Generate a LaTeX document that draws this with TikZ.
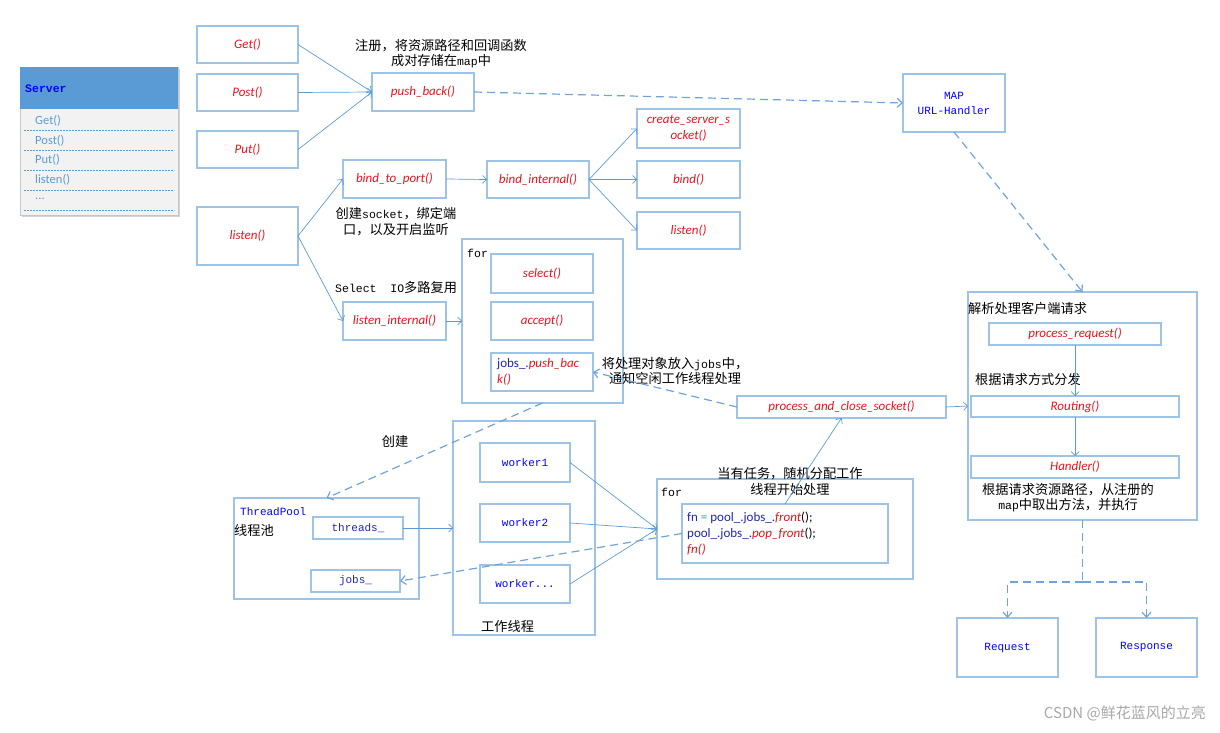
\documentclass[tikz,border=0pt]{standalone}
\usepackage{fontspec}
\setmainfont{Carlito}
\newfontfamily\cjk{Noto Sans CJK SC}
\newfontfamily\monof{Liberation Mono}
\usetikzlibrary{arrows.meta}
\definecolor{bx}{HTML}{9DC3E6}
\definecolor{ln}{HTML}{5B9BD5}
\definecolor{dl}{HTML}{6FA3DA}
\definecolor{fred}{HTML}{E8141E}
\definecolor{navy}{HTML}{2028A8}
\definecolor{tealc}{HTML}{2AA0A0}
\definecolor{sfill}{HTML}{F2F2F2}
\definecolor{hdr}{HTML}{5B9BD5}
\definecolor{wm}{HTML}{A8A8A8}
\newcommand{\mn}[1]{{\monof\fontsize{11.5}{15}\selectfont #1}}
\begin{document}
\begin{tikzpicture}[x=1pt,y=-1pt,
  box/.style={draw=bx, line width=1.4pt, inner sep=1pt, outer sep=0pt, align=center, fill=white},
  cont/.style={draw=bx, line width=1.4pt, inner sep=0pt, outer sep=0pt},
  sz/.style 2 args={minimum width=#1pt, minimum height=#2pt},
  redf/.style={font=\fontsize{13}{15.5}\selectfont\itshape, text=fred},
  bluet/.style={font=\monof\fontsize{11}{15}\selectfont, text=blue},
  cn/.style={font=\cjk\fontsize{13.2}{15.5}\selectfont, align=center, inner sep=0pt},
  item/.style={font=\fontsize{12.5}{14}\selectfont, text=ln, inner sep=0pt, anchor=west},
  conn/.style={draw=ln, line width=0.7pt, -{Straight Barb[length=4pt,width=8pt]}},
  dconn/.style={draw=dl, line width=1.2pt, dash pattern=on 8pt off 5pt, -{Straight Barb[length=5pt,width=9pt]}},
  dline/.style={draw=dl, line width=1.2pt, dash pattern=on 8pt off 5pt},
  sep/.style={draw=ln, line width=0.6pt, dash pattern=on 2pt off 1pt}
]
\useasboundingbox (0,0) rectangle (1220,733);

% ---------- Server class box ----------
\fill[gray!35] (22,69) rectangle (180,217);
\draw[draw=gray!45, fill=sfill, line width=0.8pt] (20,67) rectangle (178,215);
\fill[hdr] (20,67) rectangle (178,109);
\node[anchor=west, font=\monof\bfseries\fontsize{11.5}{12}\selectfont, text=blue, inner sep=0pt] (srvt) at (25,89) {Server};
\node[item] (i1) at (35,121) {Get()};
\node[item] (i2) at (35,141) {Post()};
\node[item] (i3) at (35,160) {Put()};
\node[item] (i4) at (35,180) {listen()};
\node[item] (i5) at (35,199) {...};
\foreach \yy in {130,150,170,190,210} \draw[sep] (24,\yy) -- (174,\yy);

% ---------- containers ----------
\node[cont, sz={161}{164}] (forA) at (542.5,321) {};
\node[anchor=west, font=\monof\fontsize{11.5}{12}\selectfont, inner sep=0pt] (forAt) at (467,253) {for};
\node[cont, sz={229}{228}] (big) at (1082.5,406) {};
\node[cont, sz={256}{100}] (forB) at (785,529) {};
\node[anchor=west, font=\monof\fontsize{11.5}{12}\selectfont, inner sep=0pt] (forBt) at (661,492) {for};
\node[cont, sz={185}{101}] (tp) at (326.5,548.5) {};
\node[cont, sz={142}{214}] (wk) at (524,528) {};

% ---------- top-left boxes ----------
\node[box, sz={101}{37}, redf] (get) at (247.5,44.5) {Get()};
\node[box, sz={101}{37}, redf] (post) at (247.5,92.5) {Post()};
\node[box, sz={101}{37}, redf] (put) at (247.5,149.5) {Put()};
\node[box, sz={101}{58}, redf] (lis) at (247.5,236) {listen()};
\node[box, sz={102}{38}, redf] (pb) at (423,92) {push\_back()};
\node[box, sz={103}{38}, redf] (btp) at (394.5,179) {bind\_to\_port()};
\node[box, sz={103}{38}, redf] (lint) at (394.5,321) {listen\_internal()};
\node[box, sz={102}{37}, redf] (bint) at (538,179.5) {bind\_internal()};
\node[box, sz={103}{39}, redf] (css) at (688.5,128.5) {create\_server\_s\\ocket()};
\node[box, sz={103}{37}, redf] (bnd) at (688.5,179.5) {bind()};
\node[box, sz={103}{37}, redf] (lis2) at (688.5,230.5) {listen()};
\node[box, sz={102}{39}, redf] (sel) at (542,273.5) {select()};
\node[box, sz={102}{38}, redf] (acc) at (542,321) {accept()};
\node[box, sz={102}{38}] (jpb) at (542,372) {};
\node[anchor=west, align=left, inner sep=0pt, font=\fontsize{13}{16}\selectfont] (jpbt) at (497,372)
  {{\color{navy}jobs\_.}{\color{fred}\itshape push\_bac}\\{\color{fred}\itshape k()}};

% ---------- MAP ----------
\node[box, sz={102}{58}, bluet] (map) at (954,103) {MAP\\URL-Handler};

% ---------- right big box ----------
\node[cn, anchor=west] (t1) at (968,308) {解析处理客户端请求};
\node[box, sz={172}{22}, redf] (preq) at (1075,334) {process\_request()};
\node[cn, anchor=west] (t2) at (975,379) {根据请求方式分发};
\node[box, sz={208}{21}, redf] (rout) at (1075,406.5) {Routing()};
\node[box, sz={208}{22}, redf] (hand) at (1075,467) {Handler()};
\node[cn] (t3) at (1068,497.5) {根据请求资源路径，从注册的\\\mn{map}中取出方法，并执行};

\node[box, sz={209}{22}, redf] (pacs) at (841.5,407) {process\_and\_close\_socket()};

% ---------- for B code ----------
\node[box, sz={206}{59}] (code) at (785,533.5) {};
\node[anchor=west, align=left, inner sep=0pt, font=\fontsize{13}{16}\selectfont] (codet) at (687,534)
  {{\color{navy}fn} {\color{tealc}=} {\color{navy}pool\_.jobs\_.}{\color{fred}\itshape front}();\\
   {\color{navy}pool\_.jobs\_.}{\color{fred}\itshape pop\_front}();\\
   {\color{fred}\itshape fn()}};

% ---------- thread pool ----------
\node[anchor=west, bluet, inner sep=0pt] (tpt) at (240,512) {ThreadPool};
\node[cn, anchor=west] (tpc) at (234,530) {线程池};
\node[box, sz={90}{22}, font=\monof\fontsize{11}{12}\selectfont, text=navy] (thr) at (358,528) {threads\_};
\node[box, sz={89}{22}, font=\monof\fontsize{11}{12}\selectfont, text=navy] (jobs) at (355.5,581) {jobs\_};
\node[box, sz={90}{39}, bluet] (w1) at (525,462.5) {worker1};
\node[box, sz={90}{38}, bluet] (w2) at (525,523) {worker2};
\node[box, sz={90}{38}, bluet] (w3) at (525,584) {worker...};
\node[cn, anchor=west] (wkt) at (481,626) {工作线程};

% ---------- Request / Response ----------
\node[box, sz={101}{59}, bluet] (req) at (1007.5,647.5) {Request};
\node[box, sz={101}{59}, bluet] (resp) at (1146.5,647.5) {Response};

% ---------- labels ----------
\node[cn] (l1) at (441,53.5) {注册，将资源路径和回调函数\\成对存储在\mn{map}中};
\node[cn] (l2) at (396,221.5) {创建\mn{socket}，绑定端\\口，以及开启监听};
\node[cn, anchor=west] (l3) at (335,288) {\mn{Select\ \ IO}多路复用};
\node[cn] (l4) at (675,371) {将处理对象放入\mn{jobs}中，\\通知空闲工作线程处理};
\node[cn] (l5) at (790,481.5) {当有任务，随机分配工作\\线程开始处理};
\node[cn] (l6) at (395,441) {创建};

% ---------- connectors ----------
\draw[conn] (get.east) -- (pb.west);
\draw[conn] (post.east) -- (pb.west);
\draw[conn] (put.east) -- (pb.west);
\draw[dconn] (pb.east) -- (map.west);
\draw[dconn] (map.south) -- (big.north);
\draw[conn] (lis.east) -- (btp.west);
\draw[conn] (lis.east) -- (lint.west);
\draw[conn] (btp.east) -- (bint.west);
\draw[conn] (bint.east) -- (css.west);
\draw[conn] (bint.east) -- (bnd.west);
\draw[conn] (bint.east) -- (lis2.west);
\draw[conn] (lint.east) -- (forA.west);
\draw[dconn] (pacs.west) -- (jpb.east);
\draw[conn] (pacs.east) -- (big.west);
\draw[conn] (preq.south) -- (rout.north);
\draw[conn] (rout.south) -- (hand.north);
\draw[dconn] (forA.south) -- (tp.north);
\draw[conn] (thr.east) -- (wk.west);
\draw[conn] (w1.east) -- (forB.west);
\draw[conn] (w2.east) -- (forB.west);
\draw[conn] (w3.east) -- (forB.west);
\draw[dconn] (code.west) -- (jobs.east);
\draw[conn] (code.north) -- (pacs.south);
\coordinate (bj) at (1082.5,582);
\draw[dline] (big.south) -- (bj);
\draw[dconn] (bj) -| (req.north);
\draw[dconn] (bj) -| (resp.north);

% ---------- watermark ----------
\node[anchor=east, font=\cjk\fontsize{15}{17}\selectfont, text=wm, inner sep=0pt] (wmk) at (1206,713) {CSDN @鲜花蓝风的立亮};
\end{tikzpicture}
\end{document}
